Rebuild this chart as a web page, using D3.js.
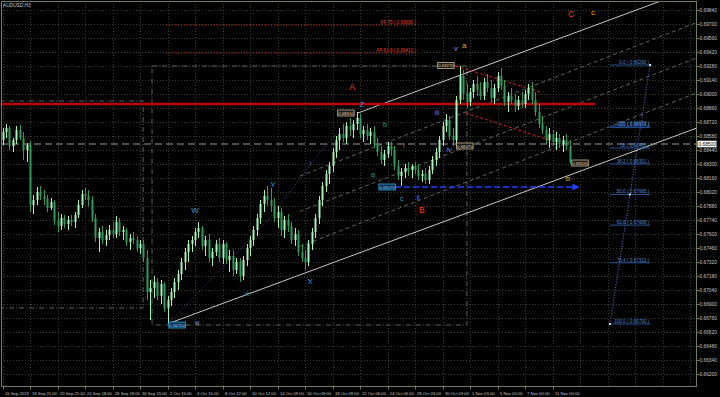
<!DOCTYPE html>
<html><head><meta charset="utf-8">
<script src="https://cdn.jsdelivr.net/npm/d3@7"></script>
<style>html,body{margin:0;padding:0;background:#000;overflow:hidden}svg{display:block}</style>
</head><body>
<svg id="c" width="720" height="397"></svg>
<script>
const symbolTitle = "AUDUSD,H3";
const openP = [0.6854,0.6862,0.6866,0.6848,0.6854,0.6864,0.6856,0.6844,0.6849,0.6789,
0.6794,0.6802,0.6798,0.6795,0.6786,0.6792,0.6774,0.6768,0.6776,0.6770,
0.6774,0.6772,0.6779,0.6789,0.6800,0.6798,0.6794,0.6776,0.6756,0.6762,
0.6754,0.6759,0.6764,0.6760,0.6772,0.6762,0.6764,0.6752,0.6756,0.6754,
0.6746,0.6750,0.6736,0.6702,0.6706,0.6712,0.6698,0.6710,0.6686,0.6694,
0.6702,0.6712,0.6720,0.6732,0.6742,0.6750,0.6754,0.6762,0.6766,0.6748,
0.6754,0.6736,0.6742,0.6750,0.6736,0.6750,0.6734,0.6738,0.6724,0.6732,
0.6718,0.6734,0.6746,0.6754,0.6764,0.6776,0.6790,0.6798,0.6794,0.6788,
0.6776,0.6782,0.6764,0.6774,0.6768,0.6754,0.6760,0.6742,0.6736,0.6732,
0.6750,0.6762,0.6776,0.6794,0.6808,0.6820,0.6828,0.6842,0.6854,0.6860,
0.6856,0.6868,0.6864,0.6870,0.6876,0.6860,0.6864,0.6858,0.6862,0.6850,
0.6842,0.6834,0.6840,0.6848,0.6844,0.6828,0.6818,0.6822,0.6826,0.6824,
0.6828,0.6824,0.6818,0.6820,0.6814,0.6824,0.6834,0.6842,0.6854,0.6868,
0.6874,0.6858,0.6854,0.6894,0.6918,0.6900,0.6892,0.6902,0.6910,0.6904,
0.6898,0.6912,0.6906,0.6896,0.6906,0.6918,0.6908,0.6892,0.6898,0.6894,
0.6888,0.6894,0.6890,0.6900,0.6906,0.6894,0.6882,0.6870,0.6864,0.6854,
0.6860,0.6852,0.6856,0.6850,0.6854,0.6848];
const highP = [0.6866,0.6870,0.6868,0.6856,0.6868,0.6869,0.6862,0.6851,0.6853,0.6799,
0.6807,0.6808,0.6804,0.6799,0.6796,0.6794,0.6782,0.6780,0.6779,0.6778,
0.6779,0.6782,0.6794,0.6804,0.6806,0.6804,0.6798,0.6780,0.6766,0.6768,
0.6764,0.6769,0.6772,0.6778,0.6776,0.6768,0.6766,0.6760,0.6762,0.6758,
0.6754,0.6754,0.6744,0.6714,0.6718,0.6716,0.6714,0.6712,0.6698,0.6706,
0.6716,0.6724,0.6736,0.6746,0.6754,0.6758,0.6766,0.6772,0.6768,0.6758,
0.6760,0.6746,0.6754,0.6756,0.6754,0.6752,0.6744,0.6744,0.6736,0.6736,
0.6738,0.6750,0.6758,0.6768,0.6780,0.6794,0.6804,0.6808,0.6806,0.6796,
0.6788,0.6786,0.6778,0.6780,0.6772,0.6766,0.6764,0.6750,0.6744,0.6754,
0.6766,0.6780,0.6798,0.6812,0.6824,0.6832,0.6846,0.6858,0.6866,0.6870,
0.6872,0.6876,0.6874,0.6882,0.6880,0.6868,0.6870,0.6866,0.6868,0.6856,
0.6848,0.6844,0.6852,0.6852,0.6848,0.6834,0.6826,0.6830,0.6832,0.6830,
0.6832,0.6830,0.6824,0.6826,0.6828,0.6838,0.6846,0.6858,0.6872,0.6880,
0.6878,0.6866,0.6898,0.6928,0.6924,0.6910,0.6906,0.6914,0.6918,0.6912,
0.6916,0.6920,0.6914,0.6910,0.6922,0.6926,0.6914,0.6902,0.6906,0.6900,
0.6898,0.6902,0.6904,0.6910,0.6912,0.6902,0.6890,0.6878,0.6868,0.6866,
0.6864,0.6862,0.6860,0.6858,0.6860,0.6854];
const lowP = [0.6849,0.6856,0.6844,0.6842,0.6850,0.6854,0.6834,0.6832,0.6782,0.6780,
0.6789,0.6794,0.6789,0.6782,0.6784,0.6769,0.6762,0.6764,0.6766,0.6764,
0.6768,0.6766,0.6776,0.6786,0.6794,0.6788,0.6772,0.6752,0.6742,0.6750,
0.6748,0.6754,0.6756,0.6756,0.6758,0.6754,0.6748,0.6744,0.6750,0.6742,
0.6740,0.6732,0.6694,0.6674,0.6696,0.6694,0.6690,0.6682,0.6670,0.6688,
0.6696,0.6704,0.6714,0.6724,0.6732,0.6742,0.6748,0.6756,0.6744,0.6738,
0.6732,0.6728,0.6738,0.6732,0.6730,0.6730,0.6722,0.6718,0.6720,0.6712,
0.6714,0.6728,0.6738,0.6748,0.6758,0.6770,0.6782,0.6788,0.6782,0.6772,
0.6766,0.6758,0.6756,0.6762,0.6750,0.6748,0.6738,0.6732,0.6724,0.6728,
0.6744,0.6756,0.6770,0.6788,0.6802,0.6810,0.6822,0.6836,0.6844,0.6852,
0.6850,0.6858,0.6856,0.6864,0.6856,0.6852,0.6854,0.6850,0.6846,0.6838,
0.6830,0.6828,0.6836,0.6838,0.6824,0.6814,0.6808,0.6816,0.6818,0.6816,
0.6820,0.6814,0.6812,0.6810,0.6810,0.6820,0.6828,0.6836,0.6848,0.6862,
0.6854,0.6848,0.6848,0.6890,0.6894,0.6886,0.6888,0.6896,0.6898,0.6894,
0.6894,0.6902,0.6892,0.6890,0.6902,0.6904,0.6888,0.6882,0.6890,0.6882,
0.6884,0.6886,0.6886,0.6894,0.6890,0.6878,0.6866,0.6860,0.6850,0.6846,
0.6848,0.6844,0.6846,0.6842,0.6844,0.6830];
const closeP = [0.6862,0.6866,0.6848,0.6854,0.6864,0.6856,0.6844,0.6849,0.6789,0.6794,
0.6802,0.6798,0.6795,0.6786,0.6792,0.6774,0.6768,0.6776,0.6770,0.6774,
0.6772,0.6779,0.6789,0.6800,0.6798,0.6794,0.6776,0.6756,0.6762,0.6754,
0.6759,0.6764,0.6760,0.6772,0.6762,0.6764,0.6752,0.6756,0.6754,0.6746,
0.6750,0.6736,0.6702,0.6706,0.6712,0.6698,0.6710,0.6686,0.6694,0.6702,
0.6712,0.6720,0.6732,0.6742,0.6750,0.6754,0.6762,0.6766,0.6748,0.6754,
0.6736,0.6742,0.6750,0.6736,0.6750,0.6734,0.6738,0.6724,0.6732,0.6718,
0.6734,0.6746,0.6754,0.6764,0.6776,0.6790,0.6798,0.6794,0.6788,0.6776,
0.6782,0.6764,0.6774,0.6768,0.6754,0.6760,0.6742,0.6736,0.6732,0.6750,
0.6762,0.6776,0.6794,0.6808,0.6820,0.6828,0.6842,0.6854,0.6860,0.6856,
0.6868,0.6864,0.6870,0.6876,0.6860,0.6864,0.6858,0.6862,0.6850,0.6842,
0.6834,0.6840,0.6848,0.6844,0.6828,0.6818,0.6822,0.6826,0.6824,0.6828,
0.6824,0.6818,0.6820,0.6814,0.6824,0.6834,0.6842,0.6854,0.6868,0.6874,
0.6858,0.6854,0.6894,0.6918,0.6900,0.6892,0.6902,0.6910,0.6904,0.6898,
0.6912,0.6906,0.6896,0.6906,0.6918,0.6908,0.6892,0.6898,0.6894,0.6888,
0.6894,0.6890,0.6900,0.6906,0.6894,0.6882,0.6870,0.6864,0.6854,0.6860,
0.6852,0.6856,0.6850,0.6854,0.6848,0.6832];

const xTickLabels = ["16 Sep 2019","18 Sep 21:00","20 Sep 21:00","24 Sep 18:00","26 Sep 18:00","30 Sep 15:00","2 Oct 15:00","4 Oct 15:00","8 Oct 12:00","10 Oct 12:00","14 Oct 09:00","16 Oct 09:00","18 Oct 09:00","22 Oct 06:00","24 Oct 06:00","28 Oct 03:00","30 Oct 03:00","1 Nov 03:00","5 Nov 00:00","7 Nov 00:00","11 Nov 00:00"];
const barsPerXTick = 8;
const yTickLabels = ["0.69840","0.69700","0.69560","0.69420","0.69280","0.69140","0.69000","0.68860","0.68720","0.68580","0.68440","0.68300","0.68160","0.68020","0.67880","0.67740","0.67600","0.67460","0.67320","0.67180","0.67040","0.66900","0.66760","0.66620","0.66480","0.66340","0.66200"];
const currentPrice = 0.6850, currentPriceLabel = "0.68500";

// annotation data (bar index, price)
const resistancePrice = 0.6890, resistanceEnd = 172.4;
const ffLevels = [0.6969, 0.6941], ffTexts = ["FF 75 ( 0.69690 )", "FF 61.8 ( 0.69410 )"], ffFrom = 47.6, ffTo = 120.3;
const boxAIdx = [-1, 40.9], boxAP = [0.6686, 0.6893];
const boxBIdx = [43.5, 135.1], boxBP = [0.6669, 0.6928];
const channelLower = [[48.7, 0.6671], [202.0, 0.6866]];
const channelUpper = [[103.4, 0.6881], [191.5, 0.6993]];
const channelInner = [[[86.5, 0.68179], [202.0, 0.69715]], [[86.5, 0.67826], [202.0, 0.69362]], [[86.5, 0.67475], [202.0, 0.69011]]];
const redChannel = [[[131.9, 0.6928], [156.4, 0.6902]], [[134.8, 0.6881], [159.9, 0.6853]]];
const dottedPath = [[48.7, 0.6672], [77.8, 0.6776], [92.9, 0.6844], [99.6, 0.6869]];
const supportPrice = 0.6807, supportFrom = 114.2, supportTo = 167.4;
const fibLevels = ["0.0","23.6","38.2","50.0","61.8","76.4","100.0","100","38"];
const fibPrices = [0.69290, 0.68679, 0.68301, 0.67995, 0.67689, 0.67312, 0.66700, 0.68664, 0.68460];
const fibFrom = 176.7, fibTo = 188.4, fibLow = [176.7, 0.6670], fibMid = [182.5, 0.67995], fibHigh = [188.4, 0.6929];
const boxTexts = ["0.68810","0.69270","0.68470","0.68320","0.68070","0.66700"];
const boxIdx = [99.9, 129.0, 134.5, 168.0, 111.9, 50.8];
const boxPr = [0.6881, 0.69285, 0.6848, 0.6831, 0.6807, 0.6669];
const boxKind = ["p","p","p","p","s","s"];
const waveText = ["A","B","C","c","a","b","v","Z","Y","W","X","x","w","a","b","c","i","ii","iii","iv","y"];
const waveIdx = [101.7,122.0,165.4,171.8,134.3,164.5,131.9,104.6,78.7,56.0,89.5,71.1,56.6,107.8,111.3,116.2,116.8,120.9,126.4,129.9,89.5];
const waveP = [0.6907,0.6784,0.6980,0.6982,0.6949,0.6816,0.6946,0.6890,0.6810,0.6784,0.6713,0.6701,0.6672,0.6820,0.6870,0.6796,0.6849,0.6797,0.6882,0.6845,0.6832];
const waveDeg = ["P","P","P","I","I","I","M","S","S","S","S","S","w","m","m","m","n","n","n","n","t"];

// ---------- drawing ----------
const degStyle = {P:{c:"#ff3c14",s:8.5,w:"normal"}, I:{c:"#f0a020",s:8,w:"normal"}, M:{c:"#9090d8",s:7.5,w:"normal"},
  S:{c:"#2a9ee6",s:8,w:"normal"}, w:{c:"#8a98b0",s:6.5,w:"normal"}, m:{c:"#1c9c9c",s:7.5,w:"normal"},
  n:{c:"#8080d0",s:7,w:"normal"}, t:{c:"#505090",s:6,w:"normal"}};
const FONT = "'Liberation Sans', Arial, sans-serif";
const L = 1, R = 697, T = 1, B = 386.5;

const x = d3.scaleLinear().domain([0, 160]).range([2.5, 552.5]);
const y = d3.scaleLinear().domain([0.6620, 0.6984]).range([374, 10]);

const svg = d3.select("#c");
svg.append("rect").attr("width", 720).attr("height", 397).attr("fill", "#000");
const defs = svg.append("defs");
defs.append("clipPath").attr("id", "plot").append("rect").attr("x", L).attr("y", T).attr("width", R - L).attr("height", B - T);
defs.append("marker").attr("id", "arr").attr("viewBox", "0 0 10 10").attr("refX", 8).attr("refY", 5)
  .attr("markerWidth", 5).attr("markerHeight", 5).attr("orient", "auto")
  .append("path").attr("d", "M0,0L10,5L0,10z").attr("fill", "#2040ff");

const g = svg.append("g").attr("clip-path", "url(#plot)");

// grid
const gridV = d3.range(0, 26).map(k => k * barsPerXTick);
g.selectAll(".vg").data(gridV).join("line").attr("class", "vg")
  .attr("x1", d => Math.round(x(d)) + 0.5).attr("x2", d => Math.round(x(d)) + 0.5)
  .attr("y1", T).attr("y2", B).attr("stroke", "#33402f").attr("stroke-dasharray", "1,2");
g.selectAll(".hg").data(yTickLabels).join("line").attr("class", "hg")
  .attr("x1", L).attr("x2", R).attr("y1", d => Math.round(y(+d)) + 0.5).attr("y2", d => Math.round(y(+d)) + 0.5)
  .attr("stroke", "#33402f").attr("stroke-dasharray", "1,2");

function seg(a, b, color, dash, width) {
  const l = g.append("line").attr("x1", x(a[0])).attr("y1", y(a[1])).attr("x2", x(b[0])).attr("y2", y(b[1]))
    .attr("stroke", color).attr("stroke-width", width || 1);
  if (dash) l.attr("stroke-dasharray", dash);
  return l;
}

// rectangles (dash-dot)
[[boxAIdx, boxAP], [boxBIdx, boxBP]].forEach(([ix, pr]) => {
  g.append("rect").attr("x", x(ix[0])).attr("y", y(pr[1])).attr("width", x(ix[1]) - x(ix[0])).attr("height", y(pr[0]) - y(pr[1]))
    .attr("fill", "none").attr("stroke", "#56665a").attr("stroke-dasharray", "5,2,1,2");
});

// FF levels
ffLevels.forEach((p, k) => {
  seg([ffFrom, p], [ffTo, p], "#c83020", "1,1.5");
  g.append("text").attr("x", x(ffTo)).attr("y", y(p) - 1.5).attr("text-anchor", "end")
    .attr("font-family", FONT).attr("font-size", 4.6).attr("fill", "#e8402a").text(ffTexts[k]);
});

// channel
g.append("line").attr("x1", x(channelLower[0][0])).attr("y1", y(channelLower[0][1])).attr("x2", x(channelLower[1][0])).attr("y2", y(channelLower[1][1])).attr("stroke", "#c8c8c8");
g.append("line").attr("x1", x(channelUpper[0][0])).attr("y1", y(channelUpper[0][1])).attr("x2", x(channelUpper[1][0])).attr("y2", y(channelUpper[1][1])).attr("stroke", "#c8c8c8");
channelInner.forEach(l => seg(l[0], l[1], "#5a665c", "4,3"));

// dotted wave path
g.append("path").datum(dottedPath).attr("d", d3.line().x(d => x(d[0])).y(d => y(d[1])))
  .attr("fill", "none").attr("stroke", "#4a4a98").attr("stroke-dasharray", "1,2");

// thick red resistance
seg([-2, resistancePrice], [resistanceEnd, resistancePrice], "#b80808", null, 2.6);

// current price dashed line
g.append("line").attr("x1", L).attr("x2", R).attr("y1", y(currentPrice)).attr("y2", y(currentPrice))
  .attr("stroke", "#9a9a9a").attr("stroke-dasharray", "7,4");

// red channel
redChannel.forEach(l => seg(l[0], l[1], "#d02020", "3,2"));

// candles
const bars = d3.range(openP.length).map(i => ({i, o: openP[i], h: highP[i], l: lowP[i], c: closeP[i]}));
const cg = g.append("g");
cg.selectAll(".wick").data(bars).join("line").attr("class", "wick")
  .attr("x1", d => Math.round(x(d.i)) + 0.5).attr("x2", d => Math.round(x(d.i)) + 0.5)
  .attr("y1", d => y(d.h)).attr("y2", d => y(d.l))
  .attr("stroke", d => d.c >= d.o ? "#a4f2b8" : "#2f9a5c");
cg.selectAll(".body").data(bars).join("rect").attr("class", "body")
  .attr("x", d => Math.round(x(d.i)) - 0.5).attr("width", 2)
  .attr("y", d => y(Math.max(d.o, d.c))).attr("height", d => Math.max(1, Math.abs(y(d.o) - y(d.c))))
  .attr("fill", d => d.c >= d.o ? "#a4f2b8" : "#2f9a5c");

// support arrow
seg([supportFrom, supportPrice], [supportTo, supportPrice], "#2040ff", "6,3", 1.4).attr("marker-end", "url(#arr)");

// fibonacci
fibPrices.forEach((p, k) => {
  seg([fibFrom, p], [fibTo, p], "#2f64b8", null, 0.8);
  g.append("text").attr("x", x(fibTo) - 1).attr("y", y(p) - 1.2).attr("text-anchor", "end")
    .attr("font-family", FONT).attr("font-size", 4.6).attr("fill", "#4a88d8")
    .text(fibLevels[k] + " ( " + p.toFixed(5) + " )");
});
seg(fibLow, fibHigh, "#6a6ae0", "1,1.6", 1);
[fibLow, fibMid, fibHigh].forEach(pt => g.append("rect").attr("x", x(pt[0]) - 1).attr("y", y(pt[1]) - 1).attr("width", 2).attr("height", 2).attr("fill", "#dde"));

// price boxes
boxTexts.forEach((t, k) => {
  const cx = x(boxIdx[k]), cy = y(boxPr[k]);
  const w = 16.5, h = 6;
  const s = boxKind[k] === "p";
  g.append("rect").attr("x", cx - w / 2).attr("y", cy - h / 2).attr("width", w).attr("height", h)
    .attr("fill", s ? "#1c1a16" : "#0a2a4a").attr("stroke", s ? "#c8b48e" : "#22b0e8").attr("stroke-width", 0.8);
  g.append("text").attr("x", cx).attr("y", cy + 1.6).attr("text-anchor", "middle")
    .attr("font-family", FONT).attr("font-size", 4.3).attr("fill", s ? "#e0d2b4" : "#8fd8ff").text(t);
});

// wave labels
waveText.forEach((t, k) => {
  const st = degStyle[waveDeg[k]];
  g.append("text").attr("x", x(waveIdx[k])).attr("y", y(waveP[k])).attr("text-anchor", "middle")
    .attr("dominant-baseline", "central").attr("font-family", FONT).attr("font-size", st.s)
    .attr("font-weight", st.w).attr("fill", st.c).text(t);
});

// frame
svg.append("rect").attr("x", L + 0.5).attr("y", T + 0.5).attr("width", R - L - 1).attr("height", B - T - 0.5)
  .attr("fill", "none").attr("stroke", "#6f8060");

// y axis
const ya = svg.append("g");
yTickLabels.forEach(t => {
  const yy = Math.round(y(+t)) + 0.5;
  ya.append("line").attr("x1", R).attr("x2", R + 2.5).attr("y1", yy).attr("y2", yy).attr("stroke", "#6f8060");
  ya.append("text").attr("x", R + 2.5).attr("y", yy + 1.7).attr("font-family", FONT).attr("font-size", 4.8)
    .attr("fill", "#c4c4c4").text(t);
});
ya.append("rect").attr("x", R + 0.5).attr("y", y(currentPrice) - 3.3).attr("width", 19).attr("height", 6.6).attr("fill", "#ffffff");
ya.append("text").attr("x", R + 1.5).attr("y", y(currentPrice) + 1.8).attr("font-family", FONT).attr("font-size", 4.8)
  .attr("fill", "#000").text(currentPriceLabel);

// x axis
const xa = svg.append("g");
xTickLabels.forEach((t, k) => {
  const xx = Math.round(x(k * barsPerXTick)) + 0.5;
  xa.append("line").attr("x1", xx).attr("x2", xx).attr("y1", B).attr("y2", B + 3).attr("stroke", "#6f8060");
  xa.append("text").attr("x", xx + 1.5).attr("y", 394.5).attr("font-family", FONT).attr("font-size", 4.2)
    .attr("fill", "#c4c4c4").text(t);
});

// title
svg.append("text").attr("x", 3).attr("y", 6.5).attr("font-family", FONT).attr("font-size", 4.8).attr("fill", "#c8c8c8").text(symbolTitle);
</script>
</body></html>
